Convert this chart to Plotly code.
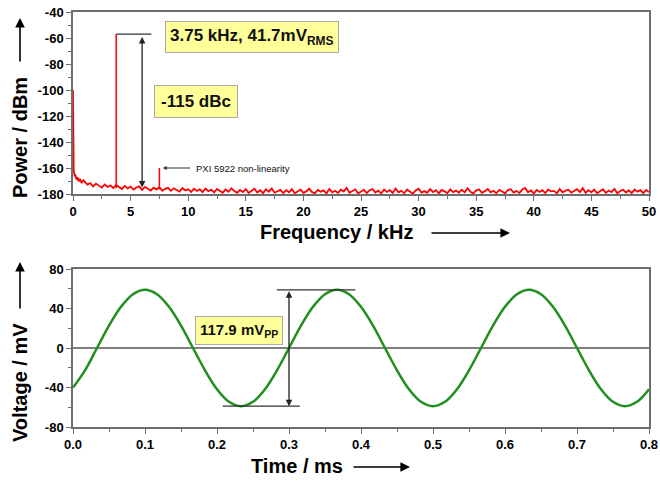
import numpy as np
import plotly.graph_objects as go

# ---------------- Spectrum data ----------------
low_freq = [0, 0.01, 0.03, 0.06, 0.1, 0.15, 0.2, 0.3, 0.4, 0.5, 0.6, 0.75, 0.9]
low_level = [-100, -150, -158, -162, -164, -166.5, -165.0, -168.8, -167.2, -170.4, -168.3, -171.6, -169.4]

grid_start = 1.0
grid_step = 0.25
noise_level = [
    -170.5, -172.8, -171.6, -174.2, -172.0, -173.4, -175.1, -172.7, -174.6, -173.3,
    -175.4, -173.1, -174.9, -176.2, -173.8, -175.7, -174.3, -176.6, -175.0, -174.1,
    -176.8, -174.6, -175.9, -177.3, -175.1, -176.4, -174.8, -177.5, -176.0, -175.3,
    -177.6, -175.7, -176.9, -178.1, -175.4, -177.2, -176.3, -178.4, -175.9, -177.7,
    -176.4, -178.6, -175.8, -177.9, -176.7, -178.8, -176.1, -177.4, -179.0, -176.5,
    -178.3, -175.6, -177.8, -179.1, -176.9, -178.5, -176.2, -179.2, -177.3, -176.0,
    -178.9, -177.1, -179.4, -176.4, -178.2, -175.7, -179.0, -177.6, -176.8, -179.3,
    -177.0, -178.7, -176.3, -179.5, -177.8, -176.6, -179.1, -178.0, -175.9, -178.6,
    -179.4, -176.9, -178.3, -177.2, -179.6, -176.1, -178.8, -177.5, -179.2, -176.7,
    -178.1, -175.3, -179.0, -177.7, -176.4, -179.5, -177.9, -176.8, -179.3, -177.1,
    -176.2, -178.9, -177.4, -179.6, -176.6, -178.4, -177.0, -179.2, -175.8, -178.7,
    -177.6, -179.4, -176.5, -178.2, -179.7, -177.3, -176.0, -178.9, -177.8, -179.1,
    -176.3, -178.6, -177.1, -179.5, -176.9, -178.0, -179.3, -176.4, -178.5, -177.4,
    -179.0, -176.7, -178.8, -175.6, -178.3, -179.6, -177.2, -176.5, -179.1, -177.9,
    -176.1, -178.7, -177.5, -179.4, -176.8, -178.1, -179.5, -177.0, -176.3, -178.9,
    -177.7, -179.2, -176.6, -175.4, -178.6, -177.3, -179.6, -176.9, -178.4, -177.1,
    -179.3, -176.5, -178.0, -177.6, -179.5, -176.2, -178.8, -177.4, -176.7, -179.0,
    -177.9, -176.3, -178.5, -175.5, -179.2, -177.0, -178.7, -176.6, -179.4, -177.8,
    -176.4, -179.1, -177.3, -178.6, -176.1, -179.5, -177.7, -176.8, -178.9, -177.2,
    -179.3, -176.6, -178.2, -177.0, -179.4, -176.9, -178.5,
]
spike_freq = [3.75, 7.5]
spike_level = [-57, -160]
spike_floor = [-175.5, -176.5]

# ---------------- Time-domain data ----------------
time_step = 1 / 60  # ms
voltage = [
    -40.0, -22.6, 0.0, 22.6, 41.7, 54.5, 59.0, 54.5, 41.7, 22.6, 0.0, -22.6, -41.7, -54.5, -59.0, -54.5,
    -41.7, -22.6, 0.0, 22.6, 41.7, 54.5, 59.0, 54.5, 41.7, 22.6, 0.0, -22.6, -41.7, -54.5, -59.0, -54.5,
    -41.7, -22.6, 0.0, 22.6, 41.7, 54.5, 59.0, 54.5, 41.7, 22.6, 0.0, -22.6, -41.7, -54.5, -59.0, -54.5,
    -41.7,
]
vpp = 117.9

# tick labels
freq_ticks = [0, 5, 10, 15, 20, 25, 30, 35, 40, 45, 50]
power_ticks = [-180, -160, -140, -120, -100, -80, -60, -40]
time_ticks = [0.0, 0.1, 0.2, 0.3, 0.4, 0.5, 0.6, 0.7, 0.8]
volt_ticks = [-80, -40, 0, 40, 80]

freq = low_freq + list(grid_start + grid_step * np.arange(len(noise_level)))
level = low_level + noise_level
time = list(time_step * np.arange(len(voltage)))

RED = "#ff0000"
GREEN = "#1f8f1f"
AX = "#6e6e6e"
FONT = "Liberation Sans"
YELLOW = "#ffff99"

fig = go.Figure()
fig.add_trace(go.Scatter(x=freq, y=level, mode="lines", line=dict(color=RED, width=1.8),
                         xaxis="x", yaxis="y", showlegend=False, hoverinfo="skip"))
sx, sy = [], []
for f, lv, fl in zip(spike_freq, spike_level, spike_floor):
    sx += [f, f, None]
    sy += [fl, lv, None]
fig.add_trace(go.Scatter(x=sx, y=sy, mode="lines", line=dict(color=RED, width=1.5),
                         xaxis="x", yaxis="y", showlegend=False, hoverinfo="skip"))
fig.add_trace(go.Scatter(x=time, y=voltage, mode="lines", line=dict(color=GREEN, width=2.5, shape="spline"),
                         xaxis="x2", yaxis="y2", showlegend=False, hoverinfo="skip"))

L, R, T, B = 73, 649, 12, 427
W, H = R - L, B - T


def px(xp):
    return (xp - L) / W


def py(yp):
    return (B - yp) / H


def bold(vals, fmt="{}"):
    return ["<b>" + fmt.format(v) + "</b>" for v in vals]


tickfont = dict(family=FONT, size=13, color="black")
common = dict(showline=True, linecolor=AX, linewidth=1.5, mirror=True, ticks="outside",
              ticklen=5, tickcolor=AX, tickwidth=1, showgrid=False, zeroline=False,
              tickfont=tickfont, automargin=False, tickmode="array")

fig.update_layout(
    width=660, height=482,
    margin=dict(l=L, r=660 - R, t=T, b=482 - B, autoexpand=False),
    plot_bgcolor="white", paper_bgcolor="white",
    xaxis=dict(domain=[0, 1], range=[0, 50], anchor="y", tickvals=freq_ticks, ticktext=bold(freq_ticks),
               minor=dict(tickmode="linear", tick0=0, dtick=2.5, ticks="outside", ticklen=3, tickcolor=AX),
               **common),
    yaxis=dict(domain=[py(194), 1], range=[-180, -40], anchor="x", tickvals=power_ticks,
               ticktext=bold(power_ticks),
               minor=dict(tickmode="linear", tick0=0, dtick=10, ticks="outside", ticklen=3, tickcolor=AX),
               **common),
    xaxis2=dict(domain=[0, 1], range=[0, 0.8], anchor="y2", tickvals=time_ticks,
                ticktext=bold(time_ticks, "{:.1f}"),
                minor=dict(tickmode="linear", tick0=0, dtick=0.05, ticks="outside", ticklen=3, tickcolor=AX),
                **common),
    yaxis2=dict(domain=[0, py(269)], range=[-80, 80], anchor="x2", tickvals=volt_ticks,
                ticktext=bold(volt_ticks),
                minor=dict(tickmode="linear", tick0=0, dtick=20, ticks="outside", ticklen=3, tickcolor=AX),
                **common),
)
fig.update_layout(yaxis2_zeroline=True, yaxis2_zerolinecolor="#808080", yaxis2_zerolinewidth=1.5)

shapes = [
    dict(type="line", xref="x", yref="y", x0=spike_freq[0], x1=6.8, y0=spike_level[0], y1=spike_level[0],
         line=dict(color="#333333", width=1.2)),
    dict(type="line", xref="x2", yref="y2", x0=0.283, x1=0.392, y0=vpp / 2, y1=vpp / 2,
         line=dict(color="#333333", width=1.2)),
    dict(type="line", xref="x2", yref="y2", x0=0.208, x1=0.315, y0=-vpp / 2, y1=-vpp / 2,
         line=dict(color="#333333", width=1.2)),
]

ann = []
ann.append(dict(xref="x", yref="y", axref="x", ayref="y", x=6.0, y=-175, ax=6.0, ay=spike_level[0] - 1,
                text="", showarrow=True, arrowhead=2, arrowside="end+start", arrowsize=1,
                arrowwidth=1.3, arrowcolor="#222222"))
ann.append(dict(xref="x", yref="y", x=15.5, y=-59.6, text="<b>3.75 kHz, 41.7mV<sub>RMS</sub></b>",
                showarrow=False, bgcolor=YELLOW, bordercolor="#aaaaaa", borderwidth=1, borderpad=4,
                xanchor="center", yanchor="middle",
                font=dict(family=FONT, size=17, color="#111111")))
ann.append(dict(xref="x", yref="y", x=10.68, y=-109.0, text="<b>-115 dBc</b>",
                showarrow=False, bgcolor=YELLOW, bordercolor="#aaaaaa", borderwidth=1, borderpad=6,
                xanchor="center", yanchor="middle",
                font=dict(family=FONT, size=17, color="#111111")))
ann.append(dict(xref="x", yref="y", axref="x", ayref="y", x=7.8, y=-160, ax=10.3, ay=-160,
                text="", showarrow=True, arrowhead=2, arrowsize=0.8, arrowwidth=1, arrowcolor="#333333"))
ann.append(dict(xref="x", yref="y", x=10.5, y=-160, xanchor="left", yanchor="middle",
                text="PXI 5922 non-linearity",
                showarrow=False, font=dict(family=FONT, size=9.5, color="#111111")))
ann.append(dict(xref="x2", yref="y2", axref="x2", ayref="y2", x=0.3, y=-vpp / 2, ax=0.3, ay=vpp / 2,
                text="", showarrow=True, arrowhead=2, arrowside="end+start", arrowsize=1,
                arrowwidth=1.3, arrowcolor="#222222"))
ann.append(dict(xref="x2", yref="y2", x=0.23, y=18.2, text="<b>117.9 mV<sub>PP</sub></b>",
                showarrow=False, bgcolor=YELLOW, bordercolor="#aaaaaa", borderwidth=1, borderpad=4,
                xanchor="center", yanchor="middle",
                font=dict(family=FONT, size=15, color="#111111")))

title_font = dict(family=FONT, size=20, color="black")


def title(text, xp, yp, angle=0):
    ann.append(dict(xref="paper", yref="paper", x=px(xp), y=py(yp), text="<b>" + text + "</b>",
                    textangle=angle, xanchor="center", yanchor="middle", showarrow=False, font=title_font))


def arrow(xp, yp, dx, dy):
    ann.append(dict(xref="paper", yref="paper", x=px(xp), y=py(yp), ax=dx, ay=dy, text="",
                    showarrow=True, arrowhead=2, arrowsize=1.2, arrowwidth=1.6, arrowcolor="black"))


title("Power / dBm", 20, 138, -90)
arrow(20, 18, 0, 45)
title("Frequency / kHz", 336, 232)
arrow(510, 233, -80, 0)
title("Voltage / mV", 20, 383, -90)
arrow(20, 262, 0, 48)
title("Time / ms", 297, 466)
arrow(410, 467, -58, 0)

fig.update_layout(shapes=shapes, annotations=ann)
fig.write_html("out.html")
